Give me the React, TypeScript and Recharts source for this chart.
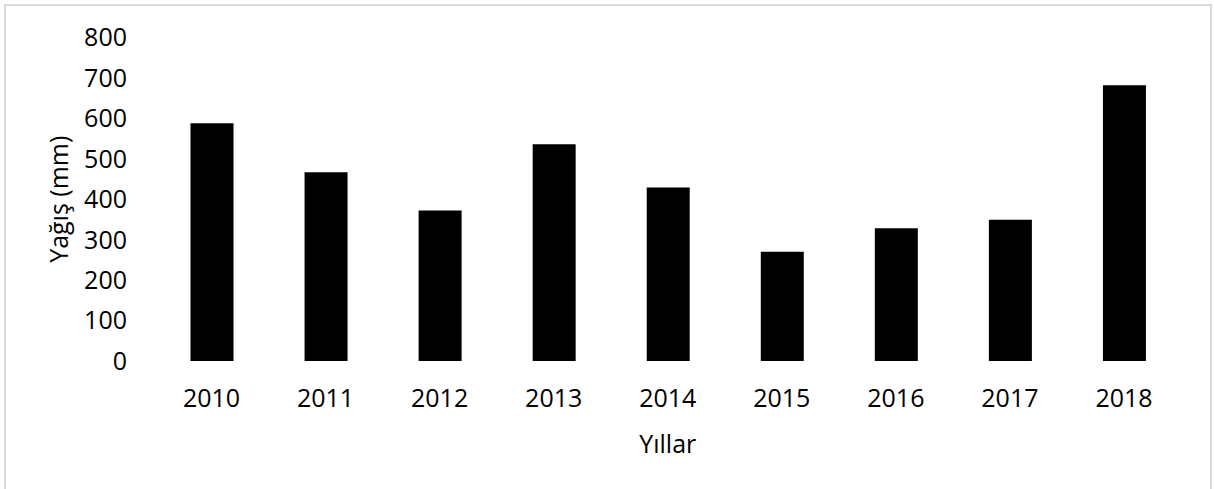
import { BarChart, Bar, XAxis, YAxis, Label } from 'recharts'

// Yıllık yağış verisi
const years = ['2010', '2011', '2012', '2013', '2014', '2015', '2016', '2017', '2018']
const rainfall = [588, 467, 372, 536, 429, 270, 328, 349, 682]
const yTicks = [0, 100, 200, 300, 400, 500, 600, 700, 800]

const chartData = years.map((year, i) => ({ year, value: rainfall[i] }))

const FONT = '"Open Sans", sans-serif'
const FONT_SIZE = 25

export default function App() {
  return (
    <div style={{ position: 'absolute', left: 0, top: 0, width: 1214, height: 489, background: '#fff', overflow: 'hidden' }}>
      <div
        style={{
          position: 'absolute',
          left: 4,
          top: 4,
          width: 1204,
          height: 500,
          border: '2px solid #d9d9d9'
        }}
      />
      <div style={{ position: 'absolute', left: 0, top: 0 }}>
        <BarChart
          width={1214}
          height={489}
          data={chartData}
          margin={{ top: 37.5, right: 33, bottom: 0, left: 0 }}
        >
          <XAxis
            dataKey="year"
            height={128}
            axisLine={false}
            tickLine={false}
            tickSize={0}
            tickMargin={28}
            tick={{ fill: '#000', fontSize: FONT_SIZE, fontFamily: FONT }}
          >
            <Label
              content={({ viewBox }: any) => (
                <text
                  x={viewBox.x + viewBox.width / 2}
                  y={viewBox.y + 82}
                  textAnchor="middle"
                  dominantBaseline="central"
                  fill="#000"
                  fontSize={FONT_SIZE}
                  fontFamily={FONT}
                >
                  Yıllar
                </text>
              )}
            />
          </XAxis>
          <YAxis
            width={154.5}
            domain={[0, 800]}
            ticks={yTicks}
            axisLine={false}
            tickLine={false}
            tickSize={0}
            tickMargin={27.5}
            tick={{ fill: '#000', fontSize: FONT_SIZE, fontFamily: FONT }}
          >
            <Label
              content={({ viewBox }: any) => {
                const cx = 58
                const cy = viewBox.y + viewBox.height / 2
                return (
                  <text
                    x={cx}
                    y={cy}
                    textAnchor="middle"
                    dominantBaseline="central"
                    transform={`rotate(-90, ${cx}, ${cy})`}
                    fill="#000"
                    fontSize={FONT_SIZE}
                    fontFamily={FONT}
                  >
                    Yağış (mm)
                  </text>
                )
              }}
            />
          </YAxis>
          <Bar dataKey="value" fill="#000" barSize={43} isAnimationActive={false} />
        </BarChart>
      </div>
    </div>
  )
}
